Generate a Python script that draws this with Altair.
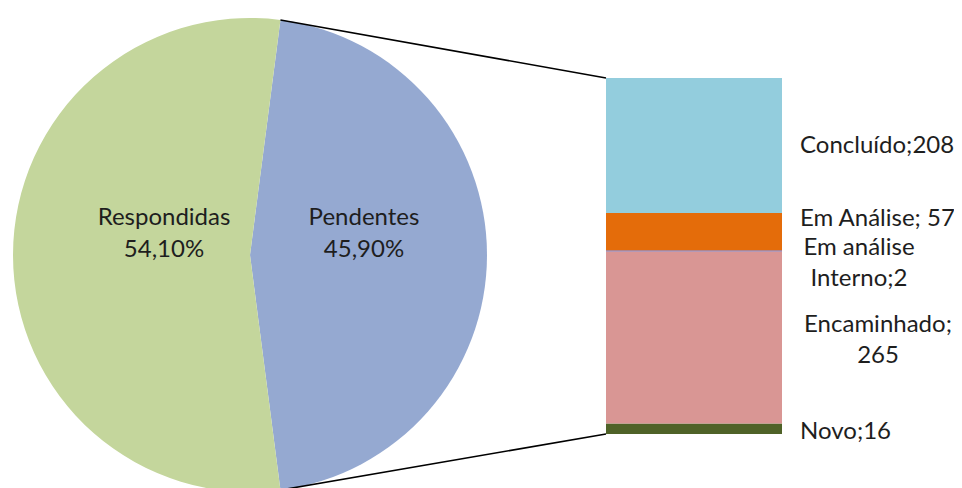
import math
import altair as alt
import pandas as pd

# ---- data ----
pie_cats = ["Pendentes", "Respondidas"]
pie_vals = [45.9, 54.1]
pie_text = ["Pendentes\n45,90%", "Respondidas\n54,10%"]

bar_cats = ["Novo", "Encaminhado", "Em análise Interno", "Em Análise", "Concluído"]
bar_vals = [16, 265, 2, 57, 208]
bar_text = ["Novo;16", "Encaminhado;\n265", "Em análise\nInterno;2", "Em Análise; 57", "Concluído;208"]

# ---- styling / layout ----
colors = {
    "Pendentes": "#95A9D1",
    "Respondidas": "#C4D69C",
    "Novo": "#4F6228",
    "Encaminhado": "#D99694",
    "Em análise Interno": "#7B68A6",
    "Em Análise": "#E46C0A",
    "Concluído": "#93CDDD",
}
W, H = 946, 480
CX, CY, R = 242, 247, 237
BAR_X0, BAR_X1 = 598, 774
BAR_TOP, BAR_BOT = 70, 426
FONT = "Lato"
FS = 24
TXT = "#1e1e1e"
PIE_LABEL_R = [114, 86]
PIE_LABEL_DY = -21
PIE_LH = 32
BAR_LH = 31

pend_frac = pie_vals[0] / sum(pie_vals)
start = math.pi / 2 - pend_frac * math.pi  # Pendentes centred at 3 o'clock
end = start + 2 * pend_frac * math.pi

pie_df = pd.DataFrame({"cat": pie_cats, "val": pie_vals, "ord": [0, 1]})
bar_df = pd.DataFrame({"cat": bar_cats, "val": bar_vals, "ord": list(range(len(bar_cats)))})

color_scale = alt.Scale(domain=list(colors.keys()), range=list(colors.values()))
theta_scale = alt.Scale(range=[start, start + 2 * math.pi])
total = sum(bar_vals)
y_scale = alt.Scale(domain=[0, total], range=[BAR_BOT, BAR_TOP], nice=False, zero=True)

pie = alt.Chart(pie_df).mark_arc(radius=R).encode(
    theta=alt.Theta("val:Q", stack=True, scale=theta_scale),
    order=alt.Order("ord:Q"),
    color=alt.Color("cat:N", scale=color_scale, legend=None),
    x=alt.value(CX), y=alt.value(CY),
)


def block_shift(txt, lh):
    n = txt.count("\n") + 1
    return -(n - 1) * lh / 2


# pie labels at each slice's mid angle
pie_label_layers = []
acc = 0.0
tot_pie = sum(pie_vals)
for txt, v, r in zip(pie_text, pie_vals, PIE_LABEL_R):
    mid = start + 2 * math.pi * (acc + v / 2) / tot_pie
    acc += v
    lx = CX + r * math.sin(mid)
    ly = CY - r * math.cos(mid) + PIE_LABEL_DY + block_shift(txt, PIE_LH)
    pie_label_layers.append(
        alt.Chart(pd.DataFrame({"t": [txt]})).mark_text(
            font=FONT, fontSize=FS, color=TXT, lineBreak="\n", lineHeight=PIE_LH,
            align="center", baseline="middle",
        ).encode(text="t:N", x=alt.value(lx), y=alt.value(ly))
    )

bar = alt.Chart(bar_df).transform_stack(
    stack="val", groupby=[], as_=["y0", "y1"], sort=[alt.SortField("ord", order="ascending")]
).mark_bar().encode(
    y=alt.Y("y0:Q", scale=y_scale, axis=None),
    y2="y1:Q",
    color=alt.Color("cat:N", scale=color_scale, legend=None),
    x=alt.value(BAR_X0), x2=alt.value(BAR_X1),
)

# connector lines: pie edge at slice boundaries -> bar corners
px0 = CX + R * math.sin(start)
py0 = CY - R * math.cos(start)
px1 = CX + R * math.sin(end)
py1 = CY - R * math.cos(end)
top_line = alt.Chart(pd.DataFrame({"v": [total]})).mark_rule(color="#000", strokeWidth=1.6).encode(
    x=alt.value(px0), x2=alt.value(BAR_X0), y=alt.value(py0), y2=alt.value(BAR_TOP),
)
bot_line = alt.Chart(pd.DataFrame({"v": [0]})).mark_rule(color="#000", strokeWidth=1.6).encode(
    x=alt.value(px1), x2=alt.value(BAR_X0), y=alt.value(py1), y2=alt.value(BAR_BOT),
)

# bar labels: at segment mid, with per-label nudges
cum = 0
mids = []
for v in bar_vals:
    mids.append(cum + v / 2)
    cum += v
label_layout = [  # (x, align, dy)
    (792, "left", 3),
    (870, "center", 2.5),
    (851, "center", 13),
    (792, "left", -12.5),
    (792, "left", 0),
]
label_layers = []
for txt, mid, (lx, al, dy) in zip(bar_text, mids, label_layout):
    label_layers.append(
        alt.Chart(pd.DataFrame({"m": [mid], "t": [txt]})).mark_text(
            font=FONT, fontSize=FS, color=TXT, lineBreak="\n", lineHeight=BAR_LH,
            align=al, baseline="middle", dy=dy + block_shift(txt, BAR_LH),
        ).encode(
            y=alt.Y("m:Q", scale=y_scale, axis=None),
            x=alt.value(lx),
            text="t:N",
        )
    )

chart = alt.layer(pie, *pie_label_layers, bar, top_line, bot_line, *label_layers).properties(
    width=W, height=H, padding=0, autosize=alt.AutoSizeParams(type="none"),
    background="#ffffff",
).configure_view(stroke=None)

chart.save("out.html", embed_options={"renderer": "svg", "actions": False})
